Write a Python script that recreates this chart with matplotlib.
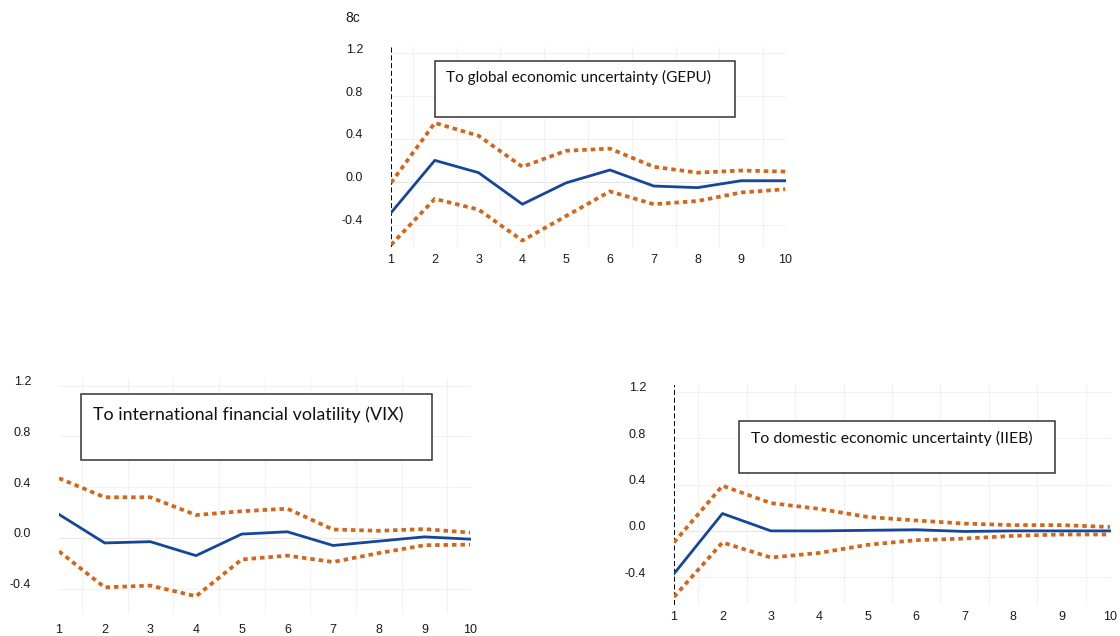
import matplotlib
matplotlib.use("Agg")
import matplotlib.pyplot as plt
import matplotlib.transforms as mtransforms
from matplotlib.patches import Rectangle

# horizons
periods = [1, 2, 3, 4, 5, 6, 7, 8, 9, 10]
yticks = [-0.4, 0.0, 0.4, 0.8, 1.2]

# response to GEPU
gepu_mid = [-0.29, 0.20, 0.085, -0.21, -0.01, 0.11, -0.04, -0.055, 0.01, 0.01]
gepu_up = [-0.01, 0.55, 0.43, 0.14, 0.29, 0.31, 0.14, 0.085, 0.105, 0.095]
gepu_lo = [-0.59, -0.16, -0.26, -0.55, -0.32, -0.09, -0.21, -0.18, -0.10, -0.07]

# response to VIX
vix_mid = [0.185, -0.04, -0.03, -0.14, 0.03, 0.048, -0.06, -0.026, 0.008, -0.01]
vix_up = [0.47, 0.32, 0.32, 0.18, 0.21, 0.23, 0.066, 0.056, 0.069, 0.042]
vix_lo = [-0.106, -0.39, -0.376, -0.46, -0.17, -0.14, -0.19, -0.12, -0.058, -0.053]

# response to IIEB
iieb_mid = [-0.37, 0.15, 0.0, 0.0, 0.005, 0.01, -0.005, 0.0, 0.0, 0.0]
iieb_up = [-0.10, 0.39, 0.24, 0.19, 0.12, 0.09, 0.063, 0.05, 0.05, 0.034]
iieb_lo = [-0.57, -0.10, -0.23, -0.19, -0.12, -0.08, -0.066, -0.043, -0.031, -0.031]

W, H = 1120, 636
BLUE = "#16469a"
ORANGE = "#d4661c"

fig = plt.figure(figsize=(W / 100, H / 100), dpi=100)


def px_axes(x0, x1, y_top, y_bot):
    return fig.add_axes([x0 / W, 1 - y_bot / H, (x1 - x0) / W, (y_bot - y_top) / H])


def box(x0, x1, y_top, y_bot, text, tx, ty, size):
    fig.add_artist(Rectangle((x0 / W, 1 - y_bot / H), (x1 - x0) / W, (y_bot - y_top) / H,
                             transform=fig.transFigure, facecolor="white",
                             edgecolor="#333333", linewidth=1.1, zorder=5))
    fig.text(tx / W, 1 - ty / H, text, ha="left", va="center", fontsize=size,
             family="Lato", color="#111111", zorder=6)


def panel(ax, mid, up, lo, ylim, vline=True):
    ax.set_xlim(1, 10.02)
    ax.set_ylim(*ylim)
    for yv in yticks:
        ax.axhline(yv, color="#e6e6e6" if yv == 0 else "#f2f2f2", lw=0.8, zorder=0)
    for xv in periods[:-1]:
        ax.axvline(xv + 0.5, color="#f2f2f2", lw=0.8, zorder=0)
    ax.plot(periods, up, color=ORANGE, lw=2.7, linestyle=(0, (1.2, 1.05)), zorder=3)
    ax.plot(periods, lo, color=ORANGE, lw=2.7, linestyle=(0, (1.2, 1.05)), zorder=3)
    ax.plot(periods, mid, color=BLUE, lw=2.0, zorder=4)
    if vline:
        ax.axvline(1, color="black", lw=1.4, linestyle=(0, (2.6, 1.4)), zorder=2)
    ax.set_xticks(periods)
    ax.set_yticks(yticks)
    ax.set_yticklabels([f"{v:.1f}" for v in yticks])
    ax.tick_params(length=0, labelsize=9, colors="#1a1a1a", pad=14)
    ax.tick_params(axis="y", pad=20)
    for lab in ax.get_yticklabels():
        lab.set_ha("right")
        lab.set_transform(lab.get_transform() +
                          mtransforms.ScaledTranslation(0, 5 / 100, fig.dpi_scale_trans))
    for s in ax.spines.values():
        s.set_visible(False)


plt.rcParams["font.family"] = ["Liberation Sans", "DejaVu Sans"]

ax1 = px_axes(391, 786, 47, 247)
panel(ax1, gepu_mid, gepu_up, gepu_lo, (-0.61, 1.26))
ax1.tick_params(axis="x", pad=5)

ax2 = px_axes(59, 471, 378, 614)
panel(ax2, vix_mid, vix_up, vix_lo, (-0.6, 1.26), vline=False)
ax2.tick_params(axis="x", pad=7)

ax3 = px_axes(674, 1111, 385, 605)
panel(ax3, iieb_mid, iieb_up, iieb_lo, (-0.64, 1.26))
ax3.tick_params(axis="x", pad=4)

box(435, 735, 61, 117, "To global economic uncertainty (GEPU)", 446, 77, 11.1)
box(81, 432, 394, 460, "To international financial volatility (VIX)", 93, 415, 12.9)
box(739, 1055, 421, 473, "To domestic economic uncertainty (IIEB)", 751, 438, 11.4)

fig.text(345 / W, 1 - 18 / H, "8c", ha="left", va="center", fontsize=10, color="#1a1a1a")

fig.savefig("out.png", dpi=100)
